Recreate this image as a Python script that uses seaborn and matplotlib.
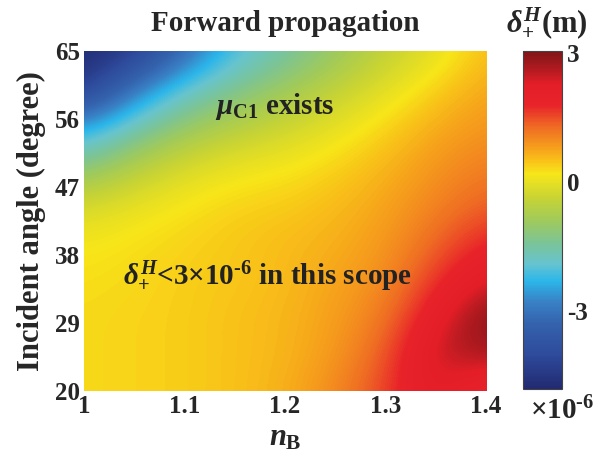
import matplotlib
matplotlib.use("Agg")
import matplotlib.pyplot as plt
import seaborn as sns
import numpy as np
from matplotlib.colors import LinearSegmentedColormap, Normalize

# grid: refractive index n_B vs incident angle
n_b = [1.0, 1.05, 1.1, 1.15, 1.2, 1.25, 1.3, 1.35, 1.4]
angles = [20, 25, 30, 35, 40, 45, 50, 55, 60, 65]

# delta^H_+ in units of 1e-6 m, one row per angle (bottom -> top)
delta_h = [
    [0.30, 0.35, 0.40, 0.50, 0.65, 1.00, 1.60, 2.35, 1.60],   # 20
    [0.30, 0.35, 0.40, 0.50, 0.60, 0.85, 1.40, 2.55, 2.75],   # 25
    [0.30, 0.35, 0.40, 0.50, 0.60, 0.80, 1.15, 2.10, 3.05],   # 30
    [0.25, 0.30, 0.40, 0.45, 0.55, 0.75, 0.95, 1.65, 2.30],   # 35
    [0.15, 0.25, 0.35, 0.45, 0.55, 0.65, 0.85, 1.30, 1.80],   # 40
    [-0.25, 0.00, 0.20, 0.35, 0.40, 0.55, 0.75, 1.05, 1.35],   # 45
    [-1.30, -0.65, -0.20, 0.05, 0.15, 0.35, 0.60, 0.90, 1.10],  # 50
    [-2.50, -1.65, -1.00, -0.60, -0.30, 0.00, 0.35, 0.70, 0.90],  # 55
    [-4.40, -2.90, -1.90, -1.35, -0.90, -0.45, -0.05, 0.40, 0.75],  # 60
    [-4.80, -4.40, -3.20, -2.10, -1.55, -1.00, -0.45, -0.05, 0.55],  # 65
]

x_ticks = [1.0, 1.1, 1.2, 1.3, 1.4]
x_tick_labels = ["1", "1.1", "1.2", "1.3", "1.4"]
y_ticks = [20, 29, 38, 47, 56, 65]
cbar_ticks = [-3, 0, 3]
vmin, vmax = -4.8, 3.05

# colour bar stops (value, colour)
cmap_values = [-4.8, -4.0, -3.3, -2.8, -2.3, -1.9, -1.4, -0.9, -0.4, 0.2,
               0.45, 0.8, 1.3, 1.8, 2.3, 2.6, 3.05]
cmap_colors = ["#222a72", "#2e4b9c", "#3462ad", "#3980c4", "#2cb6ea", "#66c4cf",
               "#7cc496", "#9fca5c", "#c5d336", "#f7e619", "#f9c818", "#f6a01c",
               "#ef6a24", "#e8232a", "#e31e27", "#b51b21", "#7f1517"]

sns.set_theme(style="white")
plt.rcParams["font.family"] = ["Liberation Serif", "DejaVu Serif"]
plt.rcParams["font.weight"] = "bold"
plt.rcParams["mathtext.fontset"] = "custom"
plt.rcParams["mathtext.rm"] = "Liberation Serif:bold"
plt.rcParams["mathtext.it"] = "Liberation Serif:bold:italic"
plt.rcParams["mathtext.bf"] = "Liberation Serif:bold"

stops = [((v - vmin) / (vmax - vmin), c) for v, c in zip(cmap_values, cmap_colors)]
cmap = LinearSegmentedColormap.from_list("delta", stops)
norm = Normalize(vmin=vmin, vmax=vmax)

fig = plt.figure(figsize=(6.06, 4.58), dpi=100)
ax = fig.add_axes([0.1386, 0.1463, 0.6634, 0.7423])
cax = fig.add_axes([0.863, 0.151, 0.064, 0.738])

dx = (n_b[1] - n_b[0]) / 2
dy = (angles[1] - angles[0]) / 2
im = ax.imshow(np.array(delta_h), origin="lower", aspect="auto", cmap=cmap, norm=norm,
               interpolation="bicubic",
               extent=[n_b[0] - dx, n_b[-1] + dx, angles[0] - dy, angles[-1] + dy])
ax.set_xlim(n_b[0], n_b[-1])
ax.set_ylim(angles[0], angles[-1])

ax.set_xticks(x_ticks)
ax.set_xticklabels(x_tick_labels)
ax.set_yticks(y_ticks)
ax.tick_params(axis="both", labelsize=18, length=0, pad=3)
for lab in ax.get_xticklabels() + ax.get_yticklabels():
    lab.set_fontweight("bold")
for sp in ax.spines.values():
    sp.set_visible(False)

ax.set_xlabel(r"$n_{\mathrm{B}}$", fontsize=22, labelpad=4)
ax.set_ylabel("Incident angle (degree)", fontsize=22, fontweight="bold", labelpad=6)

ax.text(1.19, 57.7, r"$\mu_{\mathrm{C1}}$ exists", fontsize=21, fontweight="bold",
        ha="center", va="center", color="#222222")
ax.text(1.183, 35.2, "$\\delta^{H}_{+}$<3×10$^{\u20106}$ in this scope", fontsize=21,
        fontweight="bold", ha="center", va="center", color="#222222")

cb = fig.colorbar(im, cax=cax, ticks=cbar_ticks)
cb.ax.set_yticklabels([str(t) for t in cbar_ticks])
cb.ax.tick_params(labelsize=18, direction="in", length=3, width=1, color="#333333",
                  right=True, pad=4)
for lab in cb.ax.get_yticklabels():
    lab.set_fontweight("bold")
cb.outline.set_edgecolor("#444444")
cb.outline.set_linewidth(0.8)

fig.text(0.470, 0.948, "Forward propagation", fontsize=21, fontweight="bold",
         ha="center", va="center")
fig.text(0.903, 0.948, r"$\delta^{H}_{+}$(m)", fontsize=22, fontweight="bold",
         ha="center", va="center")
fig.text(0.928, 0.103, "×10$^{\u20106}$", fontsize=21, fontweight="bold",
         ha="center", va="center")

fig.savefig("out.png", dpi=100)
